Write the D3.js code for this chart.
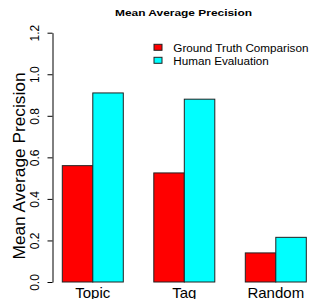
<!DOCTYPE html>
<meta charset="utf-8">
<style>
  body { margin: 0; background: #fff; }
  text { font-family: "Liberation Sans", Arial, Helvetica, sans-serif; fill: #000; }
  .bar { stroke: #222; stroke-width: 1; }
  .axis path, .axis line { stroke: #000; stroke-width: 1; }
</style>
<body>
<div id="chart"></div>
<script src="https://d3js.org/d3.v7.min.js"></script>
<script>

// data
var categories = ["Topic", "Tag", "Random"];
var series = ["Ground Truth Comparison", "Human Evaluation"];
var groundTruth = [0.56, 0.525, 0.14];
var humanEval = [0.91, 0.88, 0.215];
var yTicks = [0, 0.2, 0.4, 0.6, 0.8, 1.0, 1.2];
var colors = ["#ff0000", "#00ffff"];

var width = 311,
    height = 299;

var svg = d3.select("#chart")
  .append("svg")
  .attr("width", width)
  .attr("height", height);

var x = d3.scaleBand()
  .domain(categories)
  .range([62.3, 306.3])
  .paddingInner(1 / 3)
  .paddingOuter(0);

var xSub = d3.scaleBand()
  .domain(series)
  .range([0, x.bandwidth()]);

var y = d3.scaleLinear()
  .domain([0, 1.2])
  .range([282, 32.7]);

var color = d3.scaleOrdinal().domain(series).range(colors);

// bars
var rows = categories.map(function(c, i) {
  return {cat: c, values: [
    {key: series[0], v: groundTruth[i]},
    {key: series[1], v: humanEval[i]}
  ]};
});

var groups = svg.selectAll(".grp")
  .data(rows)
  .enter().append("g")
  .attr("class", "grp")
  .attr("transform", function(d) { return "translate(" + x(d.cat) + ",0)"; });

groups.selectAll("rect")
  .data(function(d) { return d.values; })
  .enter().append("rect")
  .attr("class", "bar")
  .attr("x", function(d) { return xSub(d.key); })
  .attr("width", xSub.bandwidth())
  .attr("y", function(d) { return y(d.v); })
  .attr("height", function(d) { return y(0) - y(d.v); })
  .style("fill", function(d) { return color(d.key); });

// category labels
svg.selectAll(".cat")
  .data(categories)
  .enter().append("text")
  .attr("class", "cat")
  .attr("x", function(d) { return x(d) + x.bandwidth() / 2; })
  .attr("y", 298)
  .attr("text-anchor", "middle")
  .style("font-size", "15px")
  .text(function(d) { return d; });

// y axis
var yAxis = svg.append("g")
  .attr("class", "axis")
  .attr("transform", "translate(52.5,0)")
  .call(d3.axisLeft(y).tickValues(yTicks).tickFormat(d3.format(".1f")).tickSize(5).tickSizeOuter(0));

yAxis.selectAll("text")
  .attr("x", null)
  .attr("dy", null)
  .attr("fill", "#000")
  .attr("text-anchor", "middle")
  .attr("transform", "translate(-14,0) rotate(-90)")
  .style("font-size", "12px")
  .style("font-family", "'Liberation Sans', Arial, sans-serif");

// y title
svg.append("text")
  .attr("transform", "translate(25,166) rotate(-90)")
  .attr("text-anchor", "middle")
  .style("font-size", "17.3px")
  .text("Mean Average Precision");

// main title
svg.append("text")
  .attr("x", 183.5)
  .attr("y", 16)
  .attr("text-anchor", "middle")
  .attr("textLength", 137)
  .attr("lengthAdjust", "spacingAndGlyphs")
  .style("font-size", "9.5px")
  .style("font-weight", "bold")
  .text("Mean Average Precision");

// legend
var legend = svg.selectAll(".leg")
  .data(series)
  .enter().append("g")
  .attr("class", "leg")
  .attr("transform", function(d, i) { return "translate(154," + (44.3 + i * 13) + ")"; });

legend.append("rect")
  .attr("width", 8)
  .attr("height", 6)
  .style("fill", function(d) { return color(d); })
  .style("stroke", "#222")
  .style("stroke-width", 1);

legend.append("text")
  .attr("x", 19.3)
  .attr("y", 7.4)
  .style("font-size", "11.7px")
  .text(function(d) { return d; });

</script>
</body>
</html>
